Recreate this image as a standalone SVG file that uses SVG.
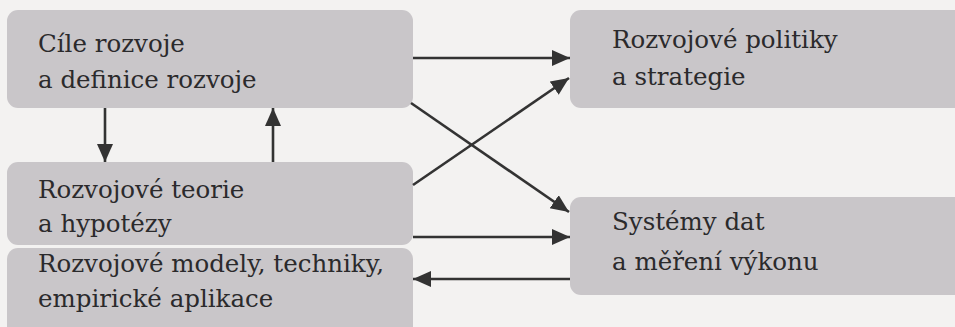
<svg xmlns="http://www.w3.org/2000/svg" width="955" height="327" viewBox="0 0 955 327">
<style>
.box{fill:#c9c6c9}
.t{font-family:"DejaVu Serif",serif;font-size:24.5px;fill:#2b2a2c}
.c{stroke:#333;stroke-width:2.6;fill:none;marker-end:url(#ah)}
</style>
<defs>
<marker id="ah" markerUnits="userSpaceOnUse" markerWidth="20" markerHeight="18" refX="18" refY="8" orient="auto">
<path d="M0,0 L18,8 L0,16 z" fill="#333"/>
</marker>
</defs>
<rect width="955" height="327" fill="#f3f2f1"/>
<g id="n1"><rect class="box" x="7" y="10" width="406" height="98" rx="11"/>
<text class="t" x="38" y="52">Cíle rozvoje</text><text class="t" x="38" y="88">a definice rozvoje</text></g>
<g id="n2"><rect class="box" x="7" y="162" width="406" height="83" rx="11"/>
<text class="t" x="38" y="198">Rozvojové teorie</text><text class="t" x="38" y="232">a hypotézy</text></g>
<g id="n3"><rect class="box" x="7" y="248" width="406" height="95" rx="11"/>
<text class="t" x="38" y="272">Rozvojové modely, techniky,</text><text class="t" x="38" y="307">empirické aplikace</text></g>
<g id="n4"><rect class="box" x="570" y="10" width="400" height="98" rx="11"/>
<text class="t" x="612" y="48">Rozvojové politiky</text><text class="t" x="612" y="85">a strategie</text></g>
<g id="n5"><rect class="box" x="570" y="197" width="400" height="98" rx="11"/>
<text class="t" x="612" y="230">Systémy dat</text><text class="t" x="612" y="270">a měření výkonu</text></g>
<g id="connectors">
<line class="c" x1="413" y1="58" x2="570" y2="58"/>
<line class="c" x1="411" y1="103" x2="569" y2="212"/>
<line class="c" x1="413" y1="185" x2="569" y2="78"/>
<line class="c" x1="413" y1="237" x2="570" y2="237"/>
<line class="c" x1="570" y1="279" x2="413" y2="279"/>
<line class="c" x1="105" y1="108" x2="105" y2="162"/>
<line class="c" x1="273" y1="162" x2="273" y2="108"/>
</g>
</svg>
